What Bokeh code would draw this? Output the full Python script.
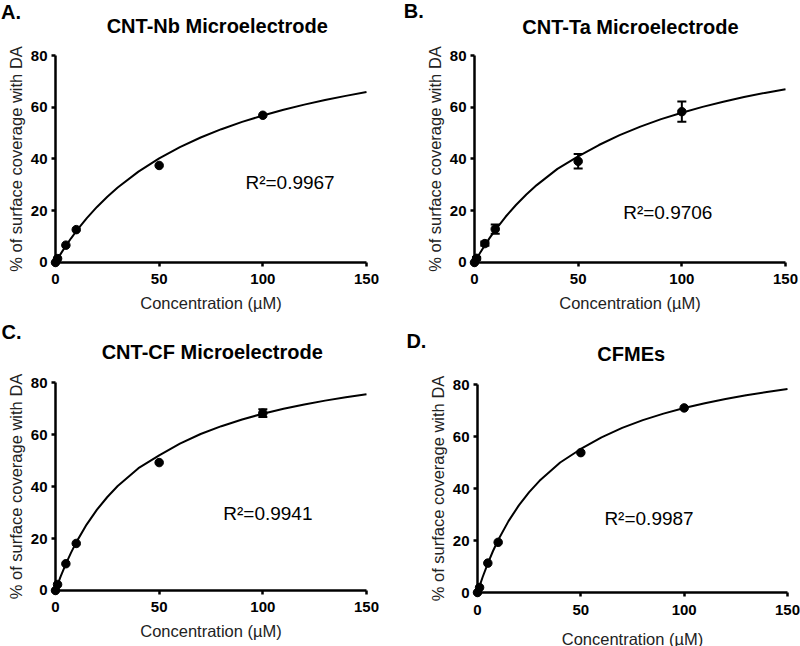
from bokeh.plotting import figure
from bokeh.layouts import gridplot
from bokeh.models import Range1d, Label, Whisker, TeeHead, ColumnDataSource, FixedTicker
from bokeh.embed import file_html
from bokeh.resources import INLINE

# ---- data ----
conc = [0, 1, 5, 10, 50, 100]

nb_mean = [0, 1.5, 6.7, 12.7, 37.5, 56.9]
nb_err = [0, 0, 0, 0, 0, 0]
ta_mean = [0, 1.6, 7.3, 12.9, 39.1, 58.3]
ta_err = [0, 0.5, 0.8, 1.8, 2.8, 3.9]
cf_mean = [0, 2.3, 10.3, 18.1, 49.2, 68.2]
cf_err = [0, 0, 0, 0, 0, 1.5]
cfme_mean = [0, 1.9, 11.3, 19.3, 53.8, 71.0]
cfme_err = [0, 0, 0, 0, 0, 0]

# fitted curves
curve_x = [0, 1, 2.5, 5, 7.5, 10, 15, 20, 25, 30, 40, 50, 60, 70, 80, 90, 100, 110, 120, 130, 140, 150]
nb_fit = [0, 1.36, 3.33, 6.44, 9.35, 12.08, 17.05, 21.47, 25.42, 28.98, 35.13, 40.25, 44.58, 48.30,
          51.52, 54.34, 56.82, 59.03, 61.01, 62.79, 64.40, 65.86]
ta_fit = [0, 1.42, 3.47, 6.70, 9.72, 12.54, 17.67, 22.22, 26.27, 29.91, 36.17, 41.0, 45.4, 49.2,
          52.5, 55.4, 57.9, 60.15, 62.15, 63.95, 65.55, 67.0]
cf_fit = [0, 2.24, 5.40, 10.23, 14.58, 18.51, 25.34, 31.08, 35.96, 40.17, 47.05, 52.0, 56.5, 60.2,
          63.2, 65.8, 68.0, 69.91, 71.57, 73.03, 74.34, 75.51]
cfme_fit = [0, 2.47, 5.96, 11.24, 15.96, 20.18, 27.46, 33.50, 38.60, 42.95, 50.0, 55.2, 59.7, 63.3,
            66.3, 68.8, 70.97, 72.82, 74.43, 75.86, 77.13, 78.26]

titles = ["CNT-Nb Microelectrode", "CNT-Ta Microelectrode", "CNT-CF Microelectrode", "CFMEs"]
letters = ["A.", "B.", "C.", "D."]
r2_text = ["R\u00b2=0.9967", "R\u00b2=0.9706", "R\u00b2=0.9941", "R\u00b2=0.9987"]
x_ticks = [0, 50, 100, 150]
y_ticks = [0, 20, 40, 60, 80]
x_label = "Concentration (\u00b5M)"
y_label = "% of surface coverage with DA"

FONT = "Liberation Sans"

# ---- layout / placement (data coords of each panel) ----
geom = [
    dict(w=400, h=320, xr=(-26.53, 166.40), yr=(-22.42, 101.26), xls=6,
         title=(78.0, 91.5), letter=(-26.3, 96.8), r2=(91.6, 31.0)),
    dict(w=400, h=320, xr=(-35.69, 157.23), yr=(-22.42, 101.26), xls=6,
         title=(75.2, 91.2), letter=(-34.1, 97.1), r2=(71.7, 19.3)),
    dict(w=400, h=326, xr=(-26.53, 166.40), yr=(-21.54, 103.85), xls=6,
         title=(75.6, 91.65), letter=(-26.0, 99.3), r2=(80.9, 29.7)),
    dict(w=400, h=326, xr=(-37.26, 156.29), yr=(-20.77, 104.62), xls=12,
         title=(74.4, 91.8), letter=(-34.4, 96.9), r2=(61.4, 28.3)),
]

means = [nb_mean, ta_mean, cf_mean, cfme_mean]
errs = [nb_err, ta_err, cf_err, cfme_err]
fits = [nb_fit, ta_fit, cf_fit, cfme_fit]

figs = []
for i in range(4):
    g = geom[i]
    p = figure(width=g["w"], height=g["h"], output_backend="svg", toolbar_location=None,
               title_location=None,
               x_range=Range1d(*g["xr"]), y_range=Range1d(*g["yr"]),
               min_border=0, min_border_left=0, min_border_right=0,
               min_border_top=0, min_border_bottom=0)
    p.outline_line_color = None
    p.grid.visible = False
    p.background_fill_color = "white"
    p.border_fill_color = "white"

    for ax in (p.xaxis[0], p.yaxis[0]):
        ax.fixed_location = 0
        ax.axis_line_width = 2.5
        ax.axis_line_color = "black"
        ax.major_tick_line_width = 2.5
        ax.major_tick_line_color = "black"
        ax.major_tick_out = 4
        ax.major_tick_in = 0
        ax.minor_tick_line_color = None
        ax.major_label_text_font = FONT
        ax.major_label_text_font_size = "15px"
        ax.major_label_text_font_style = "bold"
        ax.major_label_text_color = "black"
        ax.axis_label_text_font = FONT
        ax.axis_label_text_font_size = "16.5px"
        ax.axis_label_text_font_style = "normal"
        ax.axis_label_text_color = "#222222"
    p.xaxis[0].bounds = (x_ticks[0], x_ticks[-1])
    p.yaxis[0].bounds = (y_ticks[0], y_ticks[-1])
    p.xaxis[0].ticker = FixedTicker(ticks=x_ticks)
    p.yaxis[0].ticker = FixedTicker(ticks=y_ticks)
    p.xaxis[0].axis_label = x_label
    p.yaxis[0].axis_label = y_label
    p.xaxis[0].major_label_standoff = 8
    p.xaxis[0].axis_label_standoff = g["xls"]
    p.yaxis[0].major_label_standoff = 4
    p.yaxis[0].axis_label_standoff = 3

    p.line(curve_x, fits[i], line_color="black", line_width=2)

    bx = [c for c, e in zip(conc, errs[i]) if e > 0]
    bm = [m for m, e in zip(means[i], errs[i]) if e > 0]
    be = [e for e in errs[i] if e > 0]
    if bx:
        src = ColumnDataSource(data=dict(x=bx, up=[m + e for m, e in zip(bm, be)],
                                         lo=[m - e for m, e in zip(bm, be)]))
        p.add_layout(Whisker(source=src, base="x", upper="up", lower="lo", dimension="height",
                             line_color="black", line_width=2,
                             upper_head=TeeHead(size=9, line_width=2, line_color="black"),
                             lower_head=TeeHead(size=9, line_width=2, line_color="black")))

    p.scatter(conc, means[i], size=8.5, fill_color="black", line_color="black", marker="circle")

    p.add_layout(Label(x=g["r2"][0], y=g["r2"][1], text=r2_text[i], text_font=FONT,
                       text_font_size="19px", text_color="black", text_align="left",
                       text_baseline="middle"))
    p.add_layout(Label(x=g["title"][0], y=g["title"][1], text=titles[i], text_font=FONT,
                       text_font_size="20px", text_font_style="bold", text_color="black",
                       text_align="center", text_baseline="middle"))
    p.add_layout(Label(x=g["letter"][0], y=g["letter"][1], text=letters[i], text_font=FONT,
                       text_font_size="20px", text_font_style="bold", text_color="black",
                       text_align="left", text_baseline="middle"))
    figs.append(p)

grid = gridplot([[figs[0], figs[1]], [figs[2], figs[3]]], toolbar_location=None)

with open("out.html", "w") as f:
    f.write(file_html(grid, INLINE))
